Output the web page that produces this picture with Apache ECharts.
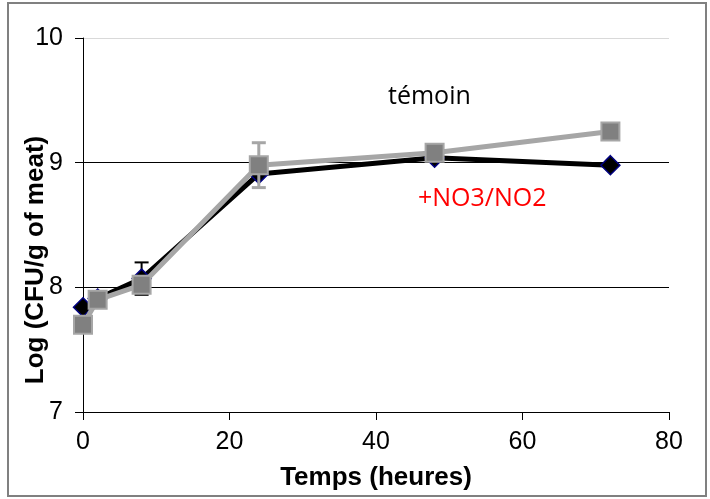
<!DOCTYPE html>
<html>
<head>
<meta charset="utf-8">
<script src="https://cdn.jsdelivr.net/npm/echarts@6/dist/echarts.min.js"></script>
<style>
  html, body { margin: 0; padding: 0; background: #fff; }
  #chart { width: 710px; height: 499px; }
</style>
</head>
<body>
<div id="chart"></div>
<script>
// hours after start
const hours = [0, 2, 8, 24, 48, 72];
// black diamonds: +NO3/NO2
const nitrateLog = [7.84, 7.91, 8.07, 8.91, 9.04, 8.98];
const nitrateErr = [0, 0, 0.13, 0, 0, 0];
// grey squares: témoin
const temoinLog = [7.70, 7.90, 8.02, 8.98, 9.08, 9.25];
const temoinErr = [0, 0, 0, 0.18, 0, 0];

const xTicks = [0, 20, 40, 60, 80];
const yTicks = [7, 8, 9, 10];

const toPairs = (vals) => hours.map((h, i) => [h, vals[i]]);
const toErr = (vals, errs) =>
  hours.map((h, i) => [h, vals[i] - errs[i], vals[i] + errs[i]]).filter((d, i) => errs[i] > 0);

function errorBar(color, width) {
  return function (params, api) {
    const top = api.coord([api.value(0), api.value(2)]);
    const bot = api.coord([api.value(0), api.value(1)]);
    const cap = 7;
    const style = { stroke: color, lineWidth: width };
    return {
      type: "group",
      children: [
        { type: "line", shape: { x1: top[0], y1: top[1], x2: bot[0], y2: bot[1] }, style },
        { type: "line", shape: { x1: top[0] - cap, y1: top[1], x2: top[0] + cap, y2: top[1] }, style },
        { type: "line", shape: { x1: bot[0] - cap, y1: bot[1], x2: bot[0] + cap, y2: bot[1] }, style },
      ],
    };
  };
}

const chart = echarts.init(document.getElementById("chart"));
const font = "'Liberation Sans', Arial, sans-serif";

const option = {
  animation: false,
  backgroundColor: "#fff",
  grid: { left: 83, right: 41, top: 38, bottom: 87 },
  xAxis: {
    type: "value",
    min: xTicks[0],
    max: xTicks[xTicks.length - 1],
    interval: 20,
    name: "Temps (heures)",
    nameLocation: "middle",
    nameGap: 53,
    nameTextStyle: { fontFamily: font, fontSize: 26, fontWeight: "bold", color: "#000" },
    axisLine: { lineStyle: { color: "#000", width: 1 } },
    axisTick: { show: true, length: 8, lineStyle: { color: "#000" } },
    axisLabel: { fontFamily: font, fontSize: 25, color: "#000", margin: 18 },
    splitLine: { show: false },
  },
  yAxis: {
    type: "value",
    min: yTicks[0],
    max: yTicks[yTicks.length - 1],
    interval: 1,
    axisLine: { show: true, lineStyle: { color: "#000", width: 1 } },
    axisTick: { show: true, length: 8, lineStyle: { color: "#000" } },
    axisLabel: { fontFamily: font, fontSize: 25, color: "#000", margin: 20 },
    splitLine: { show: true, lineStyle: { color: ["#000", "#000", "#000", "#d9d9d9"], width: 1 } },
  },
  graphic: [
    {
      type: "rect",
      shape: { x: 8, y: 3, width: 698, height: 493 },
      style: { fill: null, stroke: "#808080", lineWidth: 2 },
      silent: true,
    },
    {
      type: "text",
      x: 36,
      y: 260,
      rotation: Math.PI / 2,
      style: {
        text: "Log (CFU/g of meat)",
        font: "bold 26px " + font,
        fill: "#000",
        align: "center",
        verticalAlign: "middle",
      },
    },
    {
      type: "text",
      x: 388,
      y: 97,
      style: { text: "témoin", font: "25px 'Open Sans', sans-serif", fill: "#000", verticalAlign: "middle" },
    },
    {
      type: "text",
      x: 418,
      y: 199,
      style: { text: "+NO3/NO2", font: "25px 'Open Sans', sans-serif", fill: "#ff0000", verticalAlign: "middle" },
    },
  ],
  series: [
    {
      type: "custom",
      renderItem: errorBar("#000", 2),
      data: toErr(nitrateLog, nitrateErr),
      z: 1,
      silent: true,
    },
    {
      name: "+NO3/NO2",
      type: "line",
      data: toPairs(nitrateLog),
      symbol: "diamond",
      symbolSize: [19, 19],
      lineStyle: { color: "#000", width: 5 },
      itemStyle: { color: "#000", borderColor: "#000080", borderWidth: 1.5 },
      z: 2,
    },
    {
      type: "custom",
      renderItem: errorBar("#a6a6a6", 3),
      data: toErr(temoinLog, temoinErr),
      z: 3,
      silent: true,
    },
    {
      name: "témoin",
      type: "line",
      data: toPairs(temoinLog),
      symbol: "rect",
      symbolSize: 18,
      lineStyle: { color: "#a6a6a6", width: 5 },
      itemStyle: { color: "#808080", borderColor: "#a6a6a6", borderWidth: 2 },
      z: 4,
    },
  ],
};

option && chart.setOption(option);
</script>
</body>
</html>
